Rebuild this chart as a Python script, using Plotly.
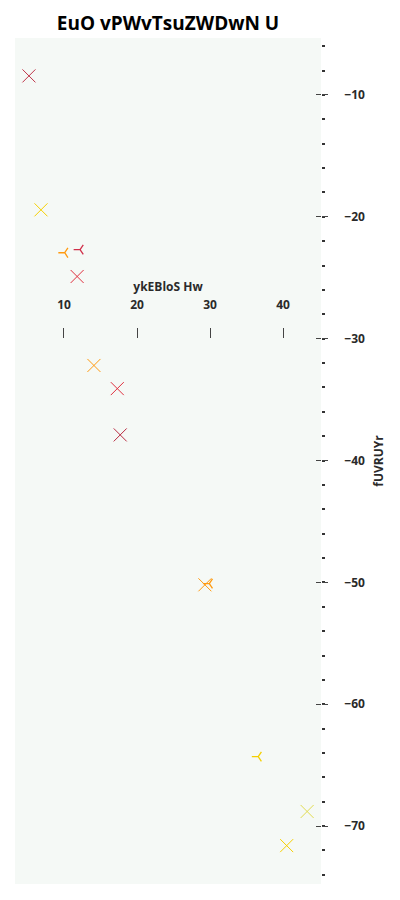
import plotly.graph_objects as go

# Data
x_cross = [5.2, 6.85, 11.8, 14.1, 17.3, 17.7, 29.3, 43.3, 40.5]
y_cross = [-8.44, -19.43, -24.9, -32.2, -34.1, -37.9, -50.2, -68.8, -71.6]
c_cross = ["#c0364a", "#f5d000", "#e0303f", "#ff9a10", "#e0303f", "#b82a40",
           "#ff9a10", "#e2dc50", "#f5d000"]

x_tri = [10.1, 12.2, 29.9, 36.6]
y_tri = [-22.95, -22.7, -50.1, -64.3]
c_tri = ["#ff9a10", "#d0304a", "#ff9a10", "#f5d000"]

title_text = "EuO vPWvTsuZWDwN U"
x_title = "ykEBloS Hw"
y_title = "fUVRUYr"

fig = go.Figure()
fig.add_trace(go.Scatter(
    x=x_cross, y=y_cross, mode="markers",
    marker=dict(symbol="x-thin-open", size=13, color=c_cross,
                line=dict(color=c_cross, width=1)),
    showlegend=False, hoverinfo="skip"))
fig.add_trace(go.Scatter(
    x=x_tri, y=y_tri, mode="markers",
    marker=dict(symbol="y-left-open", size=8, color=c_tri,
                line=dict(color=c_tri, width=1.3)),
    showlegend=False, hoverinfo="skip"))
fig.add_trace(go.Scatter(x=[None], y=[None], yaxis="y2", showlegend=False,
                         hoverinfo="skip"))

font_b = dict(family="Open Sans", size=12, color="#2a2a2a")

fig.update_layout(
    width=400, height=900,
    margin=dict(l=15, r=79, t=38, b=16),
    paper_bgcolor="white",
    plot_bgcolor="#f5f9f6",
    title=dict(text="<b>" + title_text + "</b>", x=0.5, xanchor="center",
               xref="paper", y=0.974, yanchor="middle",
               font=dict(family="Open Sans", size=19, color="black")),
    xaxis=dict(
        range=[3.29, 45.2], side="top", anchor="free", position=0.6454,
        showgrid=False, zeroline=False, showline=False,
        tickvals=[10, 20, 30, 40], ticktext=["<b>10</b>", "<b>20</b>", "<b>30</b>", "<b>40</b>"],
        ticks="outside", ticklen=10, tickwidth=1, tickcolor="#444",
        ticklabelstandoff=14,
        tickfont=font_b,
        title=dict(text="<b>" + x_title + "</b>", font=font_b, standoff=0),
    ),
    yaxis=dict(
        range=[-74.75, -5.33], side="right", anchor="x",
        showgrid=False, zeroline=False, showline=False,
        tickvals=[-10, -20, -30, -40, -50, -60, -70],
        ticktext=["<b>−10</b>", "<b>−20</b>", "<b>−30</b>", "<b>−40</b>",
                  "<b>−50</b>", "<b>−60</b>", "<b>−70</b>"],
        ticks="outside", ticklen=6, tickwidth=1, tickcolor="#444",
        ticklabelstandoff=14,
        tickfont=font_b,
        minor=dict(dtick=2, ticks="outside", ticklen=3, tickwidth=2, tickcolor="#333"),
        title=dict(text="<b>" + y_title + "</b>", font=font_b, standoff=10),
    ),
    yaxis2=dict(
        range=[-74.75, -5.33], overlaying="y", side="right", anchor="x",
        showgrid=False, zeroline=False, showline=False, showticklabels=False,
        tickvals=[-10, -20, -30, -40, -50, -60, -70],
        ticks="inside", ticklen=5, tickwidth=1, tickcolor="#444",
    ),
)

fig.write_html("out.html")
